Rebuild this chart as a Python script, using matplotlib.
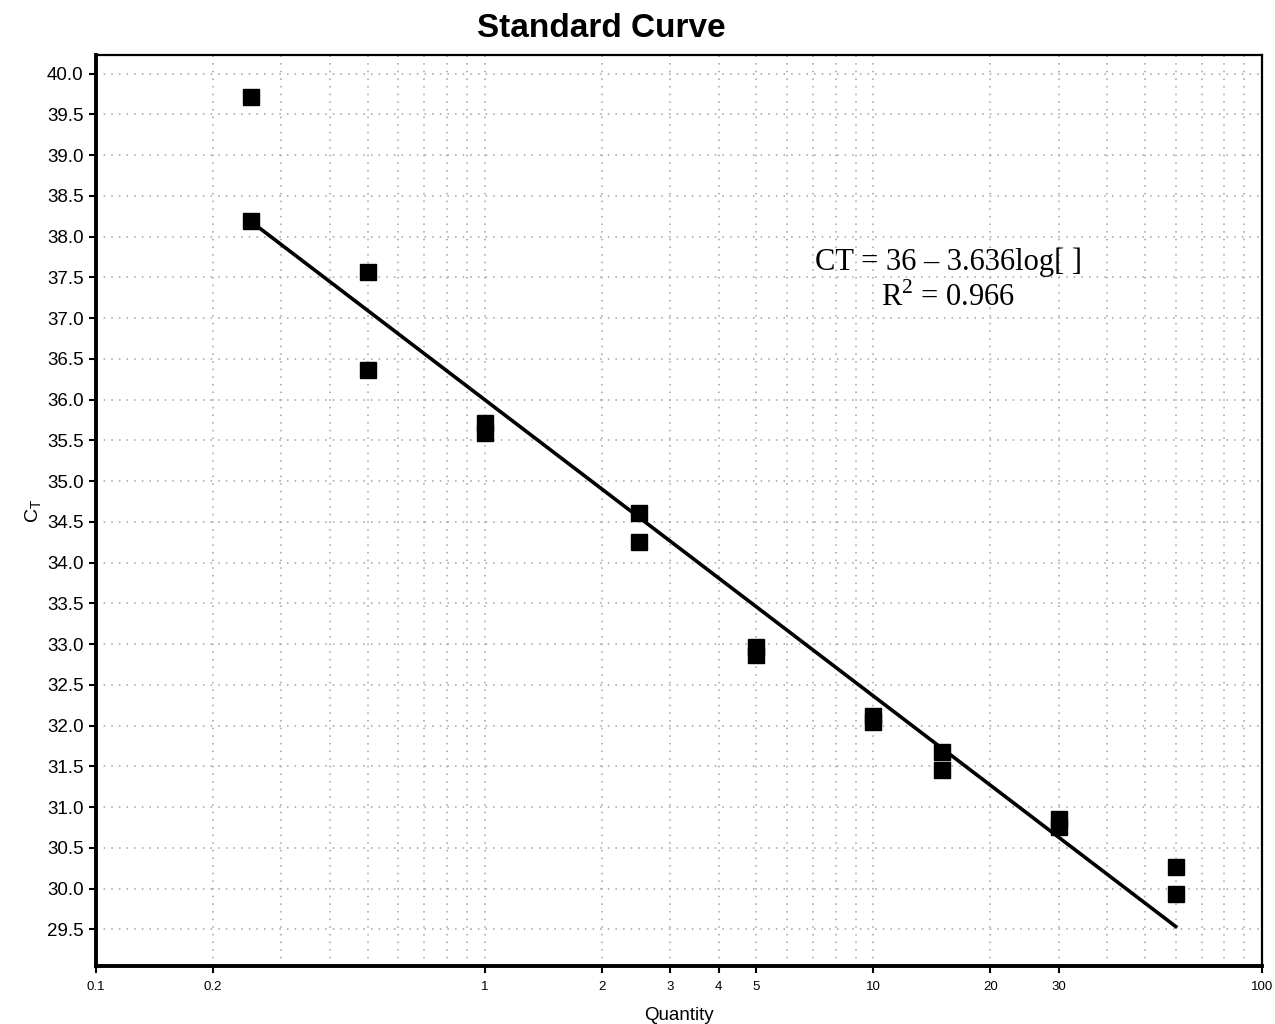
import matplotlib
matplotlib.use("Agg")
import matplotlib.pyplot as plt
import numpy as np
from matplotlib.ticker import FixedLocator, NullFormatter

# data
quantity = [0.25, 0.25, 0.5, 0.5, 1, 1, 2.5, 2.5, 5, 5,
            10, 10, 15, 15, 30, 30, 60, 60]
ct = [39.72, 38.19, 37.57, 36.36, 35.72, 35.59, 34.61, 34.25, 32.97, 32.87,
      32.12, 32.05, 31.68, 31.46, 30.85, 30.76, 30.27, 29.93]

# fit reported on the chart
intercept = 36.0
slope = -3.636
r_squared = 0.966

x_ticks = [0.1, 0.2, 1, 2, 3, 4, 5, 10, 20, 30, 100]
x_tick_labels = ['0.1', '0.2', '1', '2', '3', '4', '5', '10', '20', '30', '100']
y_ticks = np.arange(29.5, 40.01, 0.5)

plt.rcParams['font.family'] = ['Liberation Sans', 'DejaVu Sans']

fig = plt.figure(figsize=(12.75, 10.24), dpi=100)
ax = fig.add_axes([0.0753, 0.0566, 0.9145, 0.8897])

ax.set_xscale('log')
ax.set_xlim(0.1, 100)
ax.set_ylim(29.05, 40.23)

# regression line between the smallest and largest standard
x_fit = np.array([min(quantity), max(quantity)])
y_fit = intercept + slope * np.log10(x_fit)
ax.plot(x_fit, y_fit, color='black', linewidth=2.6, zorder=3)

ax.plot(quantity, ct, linestyle='none', marker='s', markersize=12.2,
        color='black', zorder=4)

# ticks and grid
ax.xaxis.set_major_locator(FixedLocator(x_ticks))
ax.set_xticklabels(x_tick_labels, fontsize=9.5)
minor = [m * 10.0 ** e for e in (-1, 0, 1) for m in range(2, 10)]
ax.xaxis.set_minor_locator(FixedLocator(minor))
ax.xaxis.set_minor_formatter(NullFormatter())
ax.tick_params(axis='x', which='minor', length=0)
ax.tick_params(axis='x', which='major', length=5, width=1.5, pad=6)

ax.set_yticks(y_ticks)
ax.set_yticklabels(['%.1f' % v for v in y_ticks], fontsize=13.5)
ax.tick_params(axis='y', length=5, width=1.5, pad=4)

grid_style = dict(linestyle=(0, (1, 4)), color='#a0a0a0', linewidth=1.1)
ax.grid(True, which='both', axis='x', **grid_style)
ax.grid(True, which='major', axis='y', **grid_style)
ax.set_axisbelow(True)

for side in ('left', 'bottom'):
    ax.spines[side].set_linewidth(2.8)
for side in ('top', 'right'):
    ax.spines[side].set_linewidth(1.6)

ax.set_xlabel('Quantity', fontsize=13.5, labelpad=10)
ax.set_ylabel(r'C$_{\mathregular{T}}$', fontsize=14, labelpad=2)

fig.text(0.472, 0.972, 'Standard Curve', fontsize=24, fontweight='bold',
         ha='center', va='center')

serif = ['Liberation Serif', 'DejaVu Serif']
ax.text(0.731, 0.773, 'CT = 36 \u2013 %.3flog[ ]' % abs(slope),
        transform=ax.transAxes, family=serif, fontsize=22,
        ha='center', va='center')
ax.text(0.731, 0.734, 'R$^{\\mathregular{2}}$ = %.3f' % r_squared,
        transform=ax.transAxes, family=serif, fontsize=22,
        ha='center', va='center')

fig.savefig('out.png', dpi=100)
